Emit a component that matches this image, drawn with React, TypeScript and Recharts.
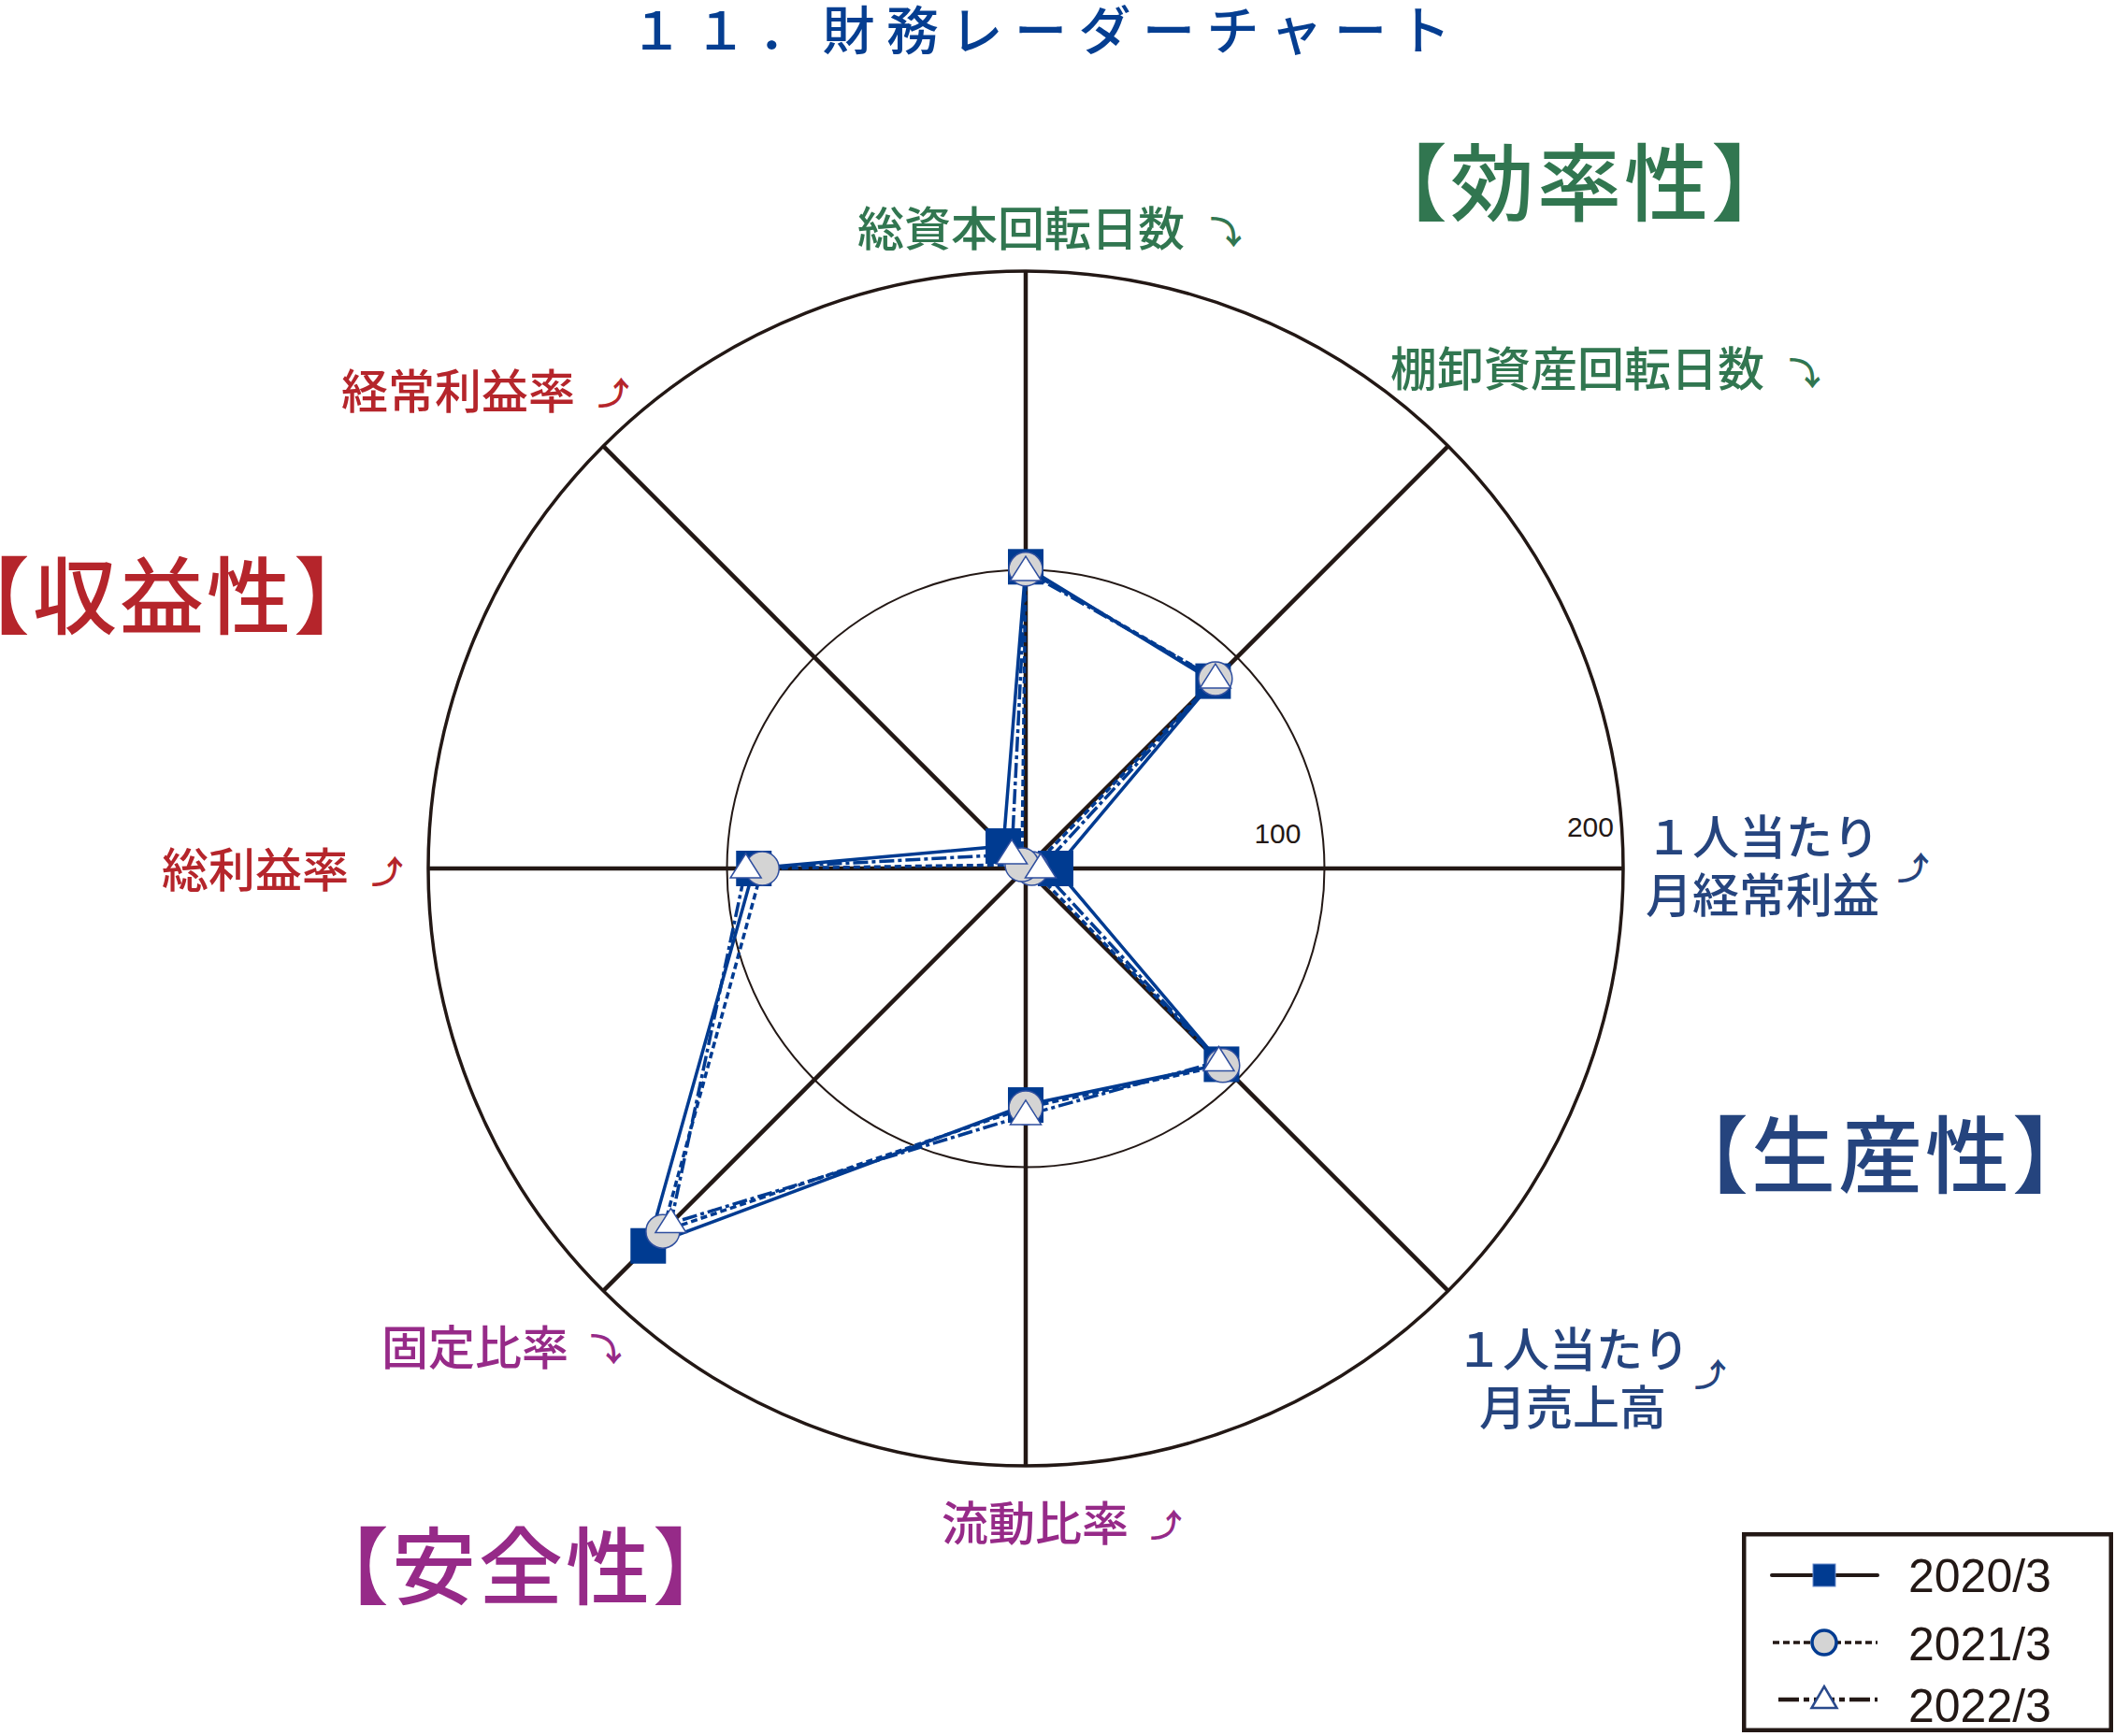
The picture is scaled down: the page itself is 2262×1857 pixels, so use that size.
import React from 'react';
import { RadarChart, Radar, PolarGrid, PolarAngleAxis, PolarRadiusAxis, Legend } from 'recharts';

// ---------- data ----------
const categories = [
  '総資本回転日数',
  '棚卸資産回転日数',
  '１人当たり月経常利益',
  '１人当たり月売上高',
  '流動比率',
  '固定比率',
  '総利益率',
  '経常利益率',
];
const categoryLines = [
  ['総資本回転日数'],
  ['棚卸資産回転日数'],
  ['１人当たり', '月経常利益'],
  ['１人当たり', '月売上高'],
  ['流動比率'],
  ['固定比率'],
  ['総利益率'],
  ['経常利益率'],
];
const categoryArrows = ['⤵', '⤵', '⤴', '⤴', '⤴', '⤵', '⤴', '⤴'];
const categoryGroups = ['eff', 'eff', 'prod', 'prod', 'safe', 'safe', 'prof', 'prof'];

const series2020 = [101, 88.7, 10, 92.7, 79.2, 178.7, 91, 10.6];
const series2021 = [100.2, 89.8, 2, 93.3, 80.1, 171.8, 88.2, 1.8];
const series2022 = [99.5, 89.8, 5, 91.4, 82.6, 168, 93.7, 6.6];
const seriesNames = ['2020/3', '2021/3', '2022/3'];
const radiusTicks = [0, 100, 200];
const chartTitle = '１１．財務レーダーチャート';
const groupTitles = ['【効率性】', '【収益性】', '【生産性】', '【安全性】'];
const groupKeys = ['eff', 'prof', 'prod', 'safe'];

const data = categories.map((c, i) => ({
  category: c,
  y2020: series2020[i],
  y2021: series2021[i],
  y2022: series2022[i],
}));

// ---------- style ----------
const W = 2262;
const H = 1857;
const CX = 1097;
const CY = 929;
const OUTER_R = 639;
const INK = '#231815';
const NAVY = '#003b91';
const MARK_STROKE = '#2f4f9f';
const JP = '"Noto Sans CJK JP", "Noto Sans", sans-serif';
const NUM = '"Liberation Sans Narrow", "Liberation Sans", Arial, sans-serif';
const GROUP_COLORS: Record<string, string> = {
  eff: '#317650',
  prof: '#b5252b',
  prod: '#25447e',
  safe: '#962a88',
};
const GROUP_POS = [
  { x: 1458, y: 229 },
  { x: -58, y: 671 },
  { x: 1780, y: 1269 },
  { x: 326, y: 1709 },
];
// offsets of each angle label from its tick point
const LABEL_LAYOUT = [
  { dx: -180, dy: -19, anchor: 'start', ax: 214, ay: -36 },
  { dx: -67.5, dy: -58.5, anchor: 'start', ax: 375.5, ay: -74.5 },
  { dx: 16, dy: -15, anchor: 'start', ax: 302, ay: -3 },
  { dx: 127.5, dy: 75.5, anchor: 'middle', ax: 274.5, ay: 82.5 },
  { dx: -90, dy: 72, anchor: 'start', ax: 150, ay: 53 },
  { dx: -231.5, dy: 73.5, anchor: 'start', ax: 8.5, ay: 55.5 },
  { dx: -277, dy: 20, anchor: 'start', ax: -36, ay: 1 },
  { dx: -274.5, dy: -34.5, anchor: 'start', ax: 16.5, ay: -53.5 },
];
const RADIUS_LABEL_OFFSET: Record<number, { dx: number; dy: number }> = {
  100: { dx: -25, dy: -27 },
  200: { dx: -10, dy: -34 },
};

function AngleTick(props: any) {
  const { x, y, payload } = props;
  let i = categories.indexOf(payload?.value);
  if (i < 0) i = props.index ?? 0;
  const L = LABEL_LAYOUT[i];
  const color = GROUP_COLORS[categoryGroups[i]];
  const lines = categoryLines[i];
  const tx = x + L.dx;
  return (
    <g>
      {lines.map((ln, k) => (
        <text
          key={k}
          x={tx}
          y={y + L.dy + k * 62}
          textAnchor={L.anchor}
          fill={color}
          fontSize={50}
          fontWeight={500}
          fontFamily={JP}
        >
          {ln}
        </text>
      ))}
      <text
        x={x + L.ax}
        y={y + L.ay}
        textAnchor="middle"
        dominantBaseline="central"
        fill={color}
        fontSize={34}
        fontWeight={700}
        fontFamily={JP}
      >
        {categoryArrows[i]}
      </text>
    </g>
  );
}

function RadiusTick(props: any) {
  const { x, y, payload } = props;
  const off = RADIUS_LABEL_OFFSET[payload?.value];
  if (!off) return <g />;
  return (
    <text x={x + off.dx} y={y + off.dy} textAnchor="end" fill={INK} fontSize={30} fontFamily={NUM}>
      {payload.value}
    </text>
  );
}

function SquareDot(props: any) {
  const { cx, cy, index } = props;
  const s = 38;
  return <rect key={`sq-${index}`} x={cx - s / 2} y={cy - s / 2} width={s} height={s} fill={NAVY} stroke="none" />;
}
function CircleDot(props: any) {
  const { cx, cy, index } = props;
  return <circle key={`ci-${index}`} cx={cx} cy={cy} r={18} fill="#d4d4d4" stroke={MARK_STROKE} strokeWidth={1.5} />;
}
function TriangleDot(props: any) {
  const { cx, cy, index } = props;
  const pts = `${cx},${cy - 16} ${cx - 16.5},${cy + 10} ${cx + 16.5},${cy + 10}`;
  return <polygon key={`tr-${index}`} points={pts} fill="#ffffff" stroke={MARK_STROKE} strokeWidth={1.5} />;
}

function LegendBox() {
  const rows = [46, 118, 177];
  const textY = [64, 137, 203];
  return (
    <svg width={397} height={214} style={{ display: 'block' }}>
      <rect x={2.25} y={2.25} width={392.5} height={209.5} fill="#ffffff" stroke={INK} strokeWidth={4.5} />
      <line x1={32} x2={145} y1={rows[0]} y2={rows[0]} stroke={INK} strokeWidth={4} strokeLinecap="round" />
      <rect x={76} y={rows[0] - 12} width={24} height={24} fill={NAVY} stroke="#6f8fce" strokeWidth={1} />
      <line x1={33} x2={145} y1={rows[1]} y2={rows[1]} stroke={INK} strokeWidth={3.5} strokeDasharray="7 4" />
      <circle cx={88} cy={rows[1]} r={13} fill="#d4d4d4" stroke={NAVY} strokeWidth={3.5} />
      <line x1={39} x2={145} y1={rows[2] + 2} y2={rows[2] + 2} stroke={INK} strokeWidth={4.5} strokeDasharray="22 5 6 5" />
      <polygon
        points={`88,${rows[2] - 12} ${74.5},${rows[2] + 11} ${101.5},${rows[2] + 11}`}
        fill="#ffffff"
        stroke="#2a4a8c"
        strokeWidth={2.5}
      />
      {seriesNames.map((n, k) => (
        <text key={n} x={178} y={textY[k]} fontSize={50} fill={INK} fontFamily='"Liberation Sans", Arial, sans-serif'>
          {n}
        </text>
      ))}
    </svg>
  );
}

export default function App() {
  return (
    <div style={{ position: 'absolute', left: 0, top: 0, width: W, height: H, background: '#ffffff', overflow: 'hidden' }}>
      <RadarChart
        width={W}
        height={H}
        data={data}
        cx={CX}
        cy={CY}
        outerRadius={OUTER_R}
        margin={{ top: 0, right: 0, bottom: 0, left: 0 }}
      >
        <PolarGrid gridType="circle" radialLines={false} stroke={INK} strokeWidth={2} />
        <PolarGrid gridType="circle" radialLines={false} polarRadius={[OUTER_R]} stroke={INK} strokeWidth={3.5} />
        <PolarGrid gridType="circle" radialLines={true} polarRadius={[]} stroke={INK} strokeWidth={4.5} />
        <PolarAngleAxis dataKey="category" axisLine={false} tickLine={false} tick={AngleTick} />
        <PolarRadiusAxis
          angle={0}
          domain={[0, 200]}
          ticks={radiusTicks as any}
          type="number"
          axisLine={false}
          tickLine={false}
          tick={RadiusTick}
        />
        <Radar
          name={seriesNames[0]}
          dataKey="y2020"
          stroke={NAVY}
          strokeWidth={3.5}
          fill="none"
          fillOpacity={0}
          dot={SquareDot}
          isAnimationActive={false}
        />
        <Radar
          name={seriesNames[1]}
          dataKey="y2021"
          stroke={NAVY}
          strokeWidth={3.5}
          strokeDasharray="7 4"
          fill="none"
          fillOpacity={0}
          dot={CircleDot}
          isAnimationActive={false}
        />
        <Radar
          name={seriesNames[2]}
          dataKey="y2022"
          stroke={NAVY}
          strokeWidth={3.5}
          strokeDasharray="16 4 4 4"
          fill="none"
          fillOpacity={0}
          dot={TriangleDot}
          isAnimationActive={false}
        />
        <Legend
          content={() => <LegendBox />}
          wrapperStyle={{ position: 'absolute', left: 1863, top: 1639, width: 397, height: 214, margin: 0, padding: 0 }}
        />
      </RadarChart>
      <svg
        width={W}
        height={H}
        style={{ position: 'absolute', left: 0, top: 0, pointerEvents: 'none' }}
      >
        <text
          x={674}
          y={53}
          fontSize={56}
          fontWeight={500}
          fill="#053e91"
          fontFamily={JP}
          style={{ letterSpacing: '12.5px' }}
        >
          {chartTitle}
        </text>
        {groupTitles.map((t, k) => (
          <text
            key={t}
            x={GROUP_POS[k].x}
            y={GROUP_POS[k].y}
            fontSize={90}
            fontWeight={500}
            fill={GROUP_COLORS[groupKeys[k]]}
            fontFamily={JP}
            style={{ letterSpacing: '3px' }}
          >
            {t}
          </text>
        ))}
      </svg>
    </div>
  );
}
